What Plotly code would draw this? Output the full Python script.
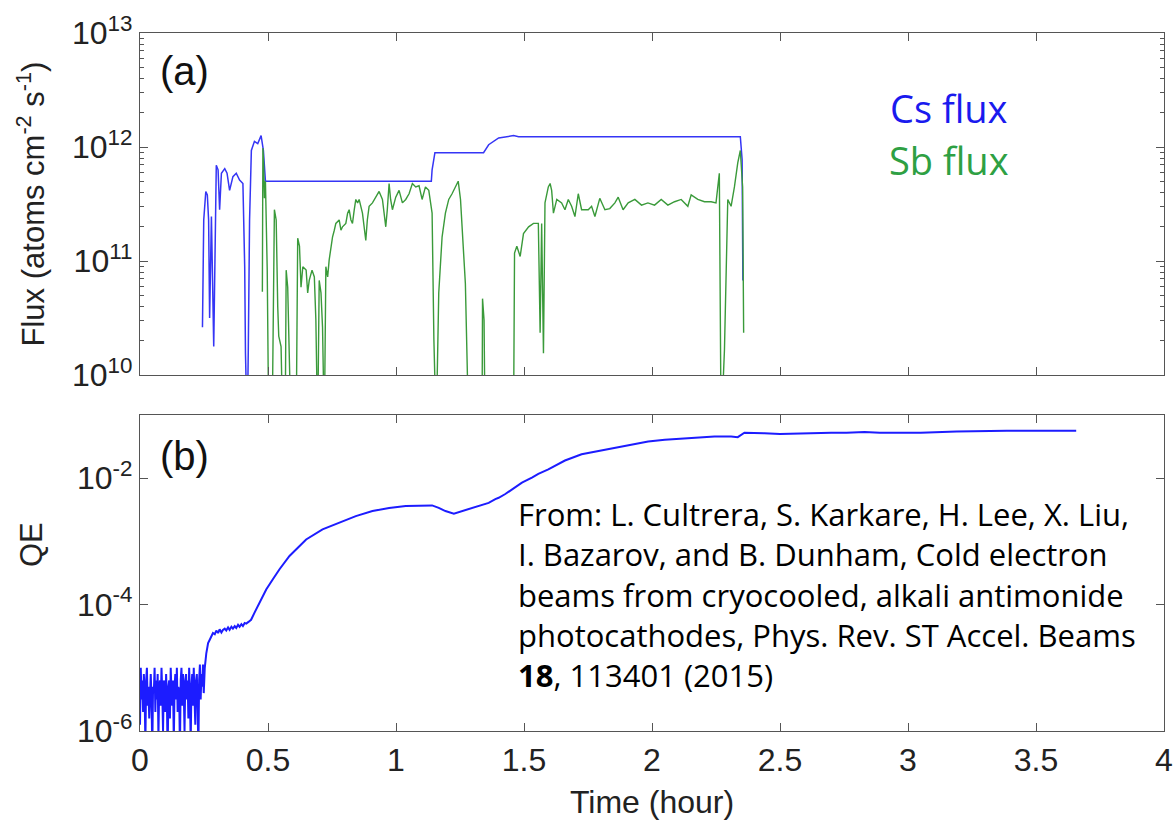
import numpy as np
import plotly.graph_objects as go

# ---------------- data ----------------
# Cs flux: time (hour) and log10(flux, atoms cm^-2 s^-1); 9.5 = below axis
cs_time = [0.244, 0.246, 0.249, 0.257, 0.263, 0.268, 0.272, 0.279, 0.288, 0.298,
           0.305, 0.311, 0.318, 0.331, 0.340, 0.350, 0.363, 0.376, 0.389, 0.402,
           0.409, 0.412, 0.415, 0.419, 0.423, 0.428, 0.435, 0.447, 0.460, 0.473,
           0.482, 0.490, 1.138, 1.141, 1.152, 1.342, 1.362, 1.401, 1.459, 1.479,
           2.345, 2.352, 2.355]
cs_exp = [10.42, 11.01, 11.36, 11.61, 11.58, 11.36, 10.50, 11.39, 10.25, 11.84,
          11.80, 11.45, 11.77, 11.81, 11.77, 11.62, 11.74, 11.77, 11.71, 11.68,
          10.95, 10.19, 9.5, 9.5, 10.22, 11.36, 11.97, 12.05, 12.03, 12.10,
          11.97, 11.70, 11.70, 11.80, 11.95, 11.95, 12.02, 12.08, 12.10, 12.09,
          12.09, 11.89, 10.83]

# Sb flux
sb_time = [0.478, 0.480, 0.483, 0.486, 0.490, 0.493, 0.497, 0.503, 0.516, 0.525,
           0.532, 0.538, 0.542, 0.551, 0.558, 0.567, 0.571, 0.577, 0.590, 0.610,
           0.616, 0.623, 0.629, 0.636, 0.649, 0.655, 0.661, 0.672, 0.681, 0.687,
           0.694, 0.700, 0.707, 0.713, 0.720, 0.726, 0.733, 0.739, 0.746, 0.752,
           0.759, 0.765, 0.778, 0.785, 0.791, 0.804, 0.811, 0.817, 0.824, 0.830,
           0.837, 0.843, 0.850, 0.856, 0.869, 0.882, 0.888, 0.895, 0.908, 0.921,
           0.934, 0.947, 0.960, 0.966, 0.973, 0.979, 0.986, 0.999, 1.012, 1.025,
           1.038, 1.051, 1.064, 1.077, 1.090, 1.102, 1.115, 1.128, 1.141, 1.148,
           1.157, 1.167, 1.180, 1.193, 1.206, 1.219, 1.232, 1.243, 1.252, 1.265,
           1.271, 1.284, 1.336, 1.338, 1.344, 1.348, 1.459, 1.463, 1.472, 1.485,
           1.498, 1.518, 1.537, 1.556, 1.563, 1.569, 1.576, 1.582, 1.595, 1.602,
           1.608, 1.615, 1.628, 1.647, 1.660, 1.673, 1.686, 1.699, 1.712, 1.725,
           1.751, 1.764, 1.777, 1.796, 1.816, 1.835, 1.855, 1.868, 1.887, 1.907,
           1.933, 1.959, 1.984, 2.010, 2.036, 2.062, 2.088, 2.114, 2.140, 2.153,
           2.179, 2.205, 2.231, 2.250, 2.263, 2.270, 2.283, 2.296, 2.309, 2.322,
           2.335, 2.345, 2.354, 2.358]
sb_exp = [10.73, 11.99, 11.85, 11.55, 11.70, 11.30, 10.92, 9.5, 9.5, 11.45,
          11.36, 10.60, 10.34, 10.25, 9.5, 9.5, 10.92, 10.77, 9.5, 9.5,
          11.20, 11.13, 10.77, 10.95, 10.92, 10.72, 10.83, 10.92, 10.86, 10.48,
          9.5, 10.83, 10.72, 10.42, 9.5, 10.95, 10.86, 11.01, 11.13, 11.21,
          11.27, 11.33, 11.36, 11.27, 11.30, 11.33, 11.42, 11.45, 11.36, 11.33,
          11.45, 11.54, 11.51, 11.54, 11.42, 11.18, 11.36, 11.48, 11.51, 11.56,
          11.61, 11.54, 11.30, 11.45, 11.68, 11.54, 11.45, 11.56, 11.62, 11.51,
          11.54, 11.59, 11.68, 11.65, 11.66, 11.54, 11.65, 11.62, 11.42, 10.31,
          9.5, 10.72, 11.21, 11.42, 11.54, 11.59, 11.65, 11.70, 11.54, 11.01,
          10.80, 9.5, 9.5, 10.67, 10.48, 9.5, 9.5, 11.07, 11.13, 11.04,
          11.24, 11.30, 11.33, 11.33, 10.37, 11.33, 10.19, 11.51, 11.65, 11.68,
          11.62, 11.42, 11.54, 11.51, 11.45, 11.54, 11.48, 11.39, 11.59, 11.45,
          11.45, 11.48, 11.39, 11.55, 11.45, 11.46, 11.51, 11.56, 11.45, 11.51,
          11.54, 11.49, 11.51, 11.49, 11.54, 11.49, 11.52, 11.54, 11.48, 11.58,
          11.54, 11.52, 11.52, 11.51, 11.77, 9.5, 10.22, 11.54, 11.48, 11.65,
          11.86, 11.97, 11.65, 10.37]

# QE: time (hour) and log10(QE)
qe_time = [0.000, 0.003, 0.006, 0.009, 0.012, 0.015, 0.018, 0.021, 0.024, 0.027,
           0.030, 0.033, 0.036, 0.039, 0.042, 0.045, 0.048, 0.051, 0.054, 0.057,
           0.060, 0.063, 0.066, 0.069, 0.072, 0.075, 0.078, 0.081, 0.084, 0.087,
           0.090, 0.093, 0.096, 0.099, 0.102, 0.105, 0.108, 0.111, 0.114, 0.117,
           0.120, 0.123, 0.126, 0.129, 0.132, 0.135, 0.138, 0.141, 0.144, 0.147,
           0.150, 0.153, 0.156, 0.159, 0.162, 0.165, 0.168, 0.171, 0.174, 0.177,
           0.180, 0.183, 0.186, 0.189, 0.192, 0.195, 0.198, 0.201, 0.204, 0.207,
           0.210, 0.213, 0.216, 0.219, 0.222, 0.225, 0.228, 0.231, 0.234, 0.237,
           0.240, 0.243, 0.246, 0.249,
           0.253, 0.259, 0.266, 0.272, 0.279, 0.285, 0.292, 0.298, 0.305, 0.311,
           0.318, 0.324, 0.331, 0.337, 0.344, 0.350, 0.357, 0.363, 0.370, 0.376,
           0.383, 0.389, 0.396, 0.402, 0.409, 0.415, 0.425, 0.434, 0.447, 0.467,
           0.493, 0.519, 0.545, 0.584, 0.649, 0.713, 0.778, 0.843, 0.908, 0.973,
           1.038, 1.102, 1.141, 1.167, 1.193, 1.226, 1.258, 1.297, 1.362, 1.388,
           1.401, 1.427, 1.466, 1.492, 1.531, 1.556, 1.595, 1.660, 1.725, 1.790,
           1.855, 1.920, 1.985, 2.050, 2.114, 2.179, 2.244, 2.309, 2.335, 2.361,
           2.390, 2.439, 2.500, 2.570, 2.633, 2.700, 2.760, 2.830, 2.890, 2.957,
           2.990, 3.050, 3.190, 3.385, 3.657]
qe_exp = [-5.9, -5.0, -5.5, -5.2, -5.7, -5.1, -5.4, -6.2, -5.2, -5.0,
          -5.6, -5.3, -5.8, -5.2, -5.1, -5.5, -6.3, -5.3, -5.4, -5.0,
          -5.7, -5.2, -5.5, -5.1, -6.1, -5.3, -5.2, -5.6, -5.0, -5.4,
          -6.0, -5.2, -5.3, -5.7, -5.1, -5.5, -6.4, -5.3, -5.2, -5.8,
          -5.0, -5.4, -5.6, -5.2, -6.2, -5.3, -5.1, -5.5, -5.0, -5.7,
          -5.3, -5.4, -6.3, -5.2, -5.0, -5.6, -5.1, -5.4, -6.0, -5.2,
          -5.1, -5.5, -5.2, -5.8, -5.0, -5.4, -6.2, -5.3, -5.1, -5.6,
          -5.0, -5.5, -5.9, -5.2, -5.1, -5.6, -6.3, -5.2, -4.95, -5.5,
          -5.1, -5.3, -4.95, -5.4,
          -5.0, -4.77, -4.61, -4.56, -4.50, -4.45, -4.47, -4.41, -4.45, -4.39,
          -4.44, -4.40, -4.38, -4.41, -4.36, -4.40, -4.35, -4.38, -4.34, -4.37,
          -4.32, -4.35, -4.31, -4.34, -4.29, -4.30, -4.27, -4.24, -4.13, -3.97,
          -3.76, -3.60, -3.44, -3.23, -2.97, -2.81, -2.70, -2.60, -2.52, -2.47,
          -2.44, -2.44, -2.43, -2.47, -2.52, -2.56, -2.52, -2.47, -2.39, -2.33,
          -2.31, -2.25, -2.15, -2.07, -1.99, -1.93, -1.86, -1.72, -1.62, -1.57,
          -1.53, -1.48, -1.42, -1.39, -1.37, -1.35, -1.34, -1.34, -1.35, -1.28,
          -1.28, -1.29, -1.30, -1.29, -1.28, -1.28, -1.28, -1.27, -1.28, -1.28,
          -1.29, -1.28, -1.26, -1.25, -1.25]

x_ticks = [0, 0.5, 1, 1.5, 2, 2.5, 3, 3.5, 4]
x_ticktext = ["0", "0.5", "1", "1.5", "2", "2.5", "3", "3.5", "4"]
flux_ticks = [1e10, 1e11, 1e12, 1e13]
flux_ticktext = ["10<sup>10</sup>", "10<sup>11</sup>", "10<sup>12</sup>", "10<sup>13</sup>"]
qe_ticks = [1e-6, 1e-4, 1e-2]
qe_ticktext = ["10<sup>-6</sup>", "10<sup>-4</sup>", "10<sup>-2</sup>"]

citation_lines = ["From: L. Cultrera, S. Karkare, H. Lee, X. Liu,",
                  "I. Bazarov, and B. Dunham, Cold electron",
                  "beams from cryocooled, alkali antimonide",
                  "photocathodes, Phys. Rev. ST Accel. Beams",
                  "<b>18</b>, 113401 (2015)"]

# ---------------- figure ----------------
BLUE = "#3535f5"
GREEN = "#3a9a3a"
AX = "#555555"
AXFONT = dict(family="Liberation Sans, Arial, sans-serif", size=32, color="#222222")

fig = go.Figure()
fig.add_trace(go.Scatter(x=cs_time, y=10 ** np.array(cs_exp), mode="lines",
                         line=dict(color=BLUE, width=1.5), xaxis="x2", yaxis="y2",
                         showlegend=False))
fig.add_trace(go.Scatter(x=sb_time, y=10 ** np.array(sb_exp), mode="lines",
                         line=dict(color=GREEN, width=1.4), xaxis="x2", yaxis="y2",
                         showlegend=False))
fig.add_trace(go.Scatter(x=qe_time, y=10 ** np.array(qe_exp), mode="lines",
                         line=dict(color="#1c1cff", width=2.0), xaxis="x", yaxis="y",
                         showlegend=False))

common_x = dict(range=[0, 4], tickvals=x_ticks, ticks="inside", ticklen=8,
                tickcolor=AX, tickwidth=1.2, showline=True, linecolor=AX,
                linewidth=1.3, mirror="ticks", showgrid=False, zeroline=False,
                automargin=False)

fig.update_layout(
    width=1174, height=820,
    margin=dict(l=140, r=10, t=33, b=89),
    plot_bgcolor="white", paper_bgcolor="white",
    font=AXFONT,
    xaxis=dict(**common_x, anchor="y", domain=[0, 1], ticktext=x_ticktext,
               tickfont=AXFONT, ticklabeloverflow="allow",
               title=dict(text="Time (hour)", font=AXFONT, standoff=18)),
    xaxis2=dict(**common_x, anchor="y2", domain=[0, 1], showticklabels=False),
    yaxis=dict(type="log", range=[-6, -1], domain=[0, 0.4527], anchor="x",
               tickvals=qe_ticks, ticktext=qe_ticktext, ticks="inside", ticklen=8,
               tickcolor=AX, tickwidth=1.2, showline=True, linecolor=AX, linewidth=1.3,
               mirror="ticks", showgrid=False, zeroline=False, tickfont=AXFONT,
               ticklabeloverflow="allow", automargin=False),
    yaxis2=dict(type="log", range=[10, 13], domain=[0.510, 1], anchor="x2",
                tickvals=flux_ticks, ticktext=flux_ticktext, ticks="inside", ticklen=8,
                tickcolor=AX, tickwidth=1.2, showline=True, linecolor=AX, linewidth=1.3,
                mirror="ticks", showgrid=False, zeroline=False, tickfont=AXFONT,
                ticklabeloverflow="allow", automargin=False,
                minor=dict(ticks="inside", ticklen=4, tickcolor=AX, dtick="D1",
                           showgrid=False)),
)

ann = []
ann.append(dict(text="Flux (atoms cm<sup>-2</sup> s<sup>-1</sup>)", x=-0.106, y=0.755,
                xref="paper", yref="paper", showarrow=False, textangle=-90,
                font=dict(AXFONT, size=31), xanchor="center", yanchor="middle"))
ann.append(dict(text="QE", x=-0.106, y=0.267, xref="paper", yref="paper",
                showarrow=False, textangle=-90, font=dict(AXFONT, size=31),
                xanchor="center", yanchor="middle"))
ann.append(dict(text="(a)", x=0.043, y=0.945, xref="paper", yref="paper",
                showarrow=False, font=dict(family="Liberation Sans, Arial", size=40,
                                           color="#111111"),
                xanchor="center", yanchor="middle"))
ann.append(dict(text="(b)", x=0.043, y=0.394, xref="paper", yref="paper",
                showarrow=False, font=dict(family="Liberation Sans, Arial", size=40,
                                           color="#111111"),
                xanchor="center", yanchor="middle"))
ann.append(dict(text="Cs flux", x=0.79, y=0.8926, xref="paper", yref="paper",
                showarrow=False, font=dict(family="Open Sans, sans-serif", size=38,
                                           color="#1a1aee"),
                xanchor="center", yanchor="middle"))
ann.append(dict(text="Sb flux", x=0.79, y=0.818, xref="paper", yref="paper",
                showarrow=False, font=dict(family="Open Sans, sans-serif", size=38,
                                           color="#2ea043"),
                xanchor="center", yanchor="middle"))
ann.append(dict(text="<br>".join(citation_lines), x=0.3672, y=0.196,
                xref="paper", yref="paper", showarrow=False, align="left",
                xanchor="left", yanchor="middle",
                font=dict(family="Open Sans, sans-serif", size=31, color="#000000")))
fig.update_layout(annotations=ann)

fig.write_html("out.html")
